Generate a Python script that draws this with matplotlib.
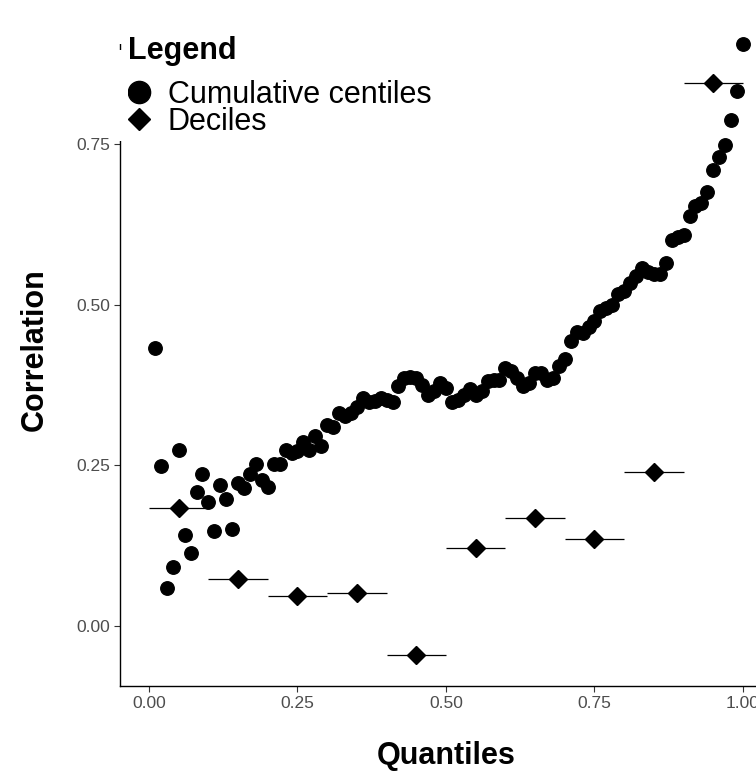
import matplotlib
matplotlib.use("Agg")
import matplotlib.pyplot as plt
from matplotlib.lines import Line2D
from matplotlib.patches import Rectangle

plt.rcParams['font.family'] = ['Liberation Sans', 'DejaVu Sans']

# === DONNEES ===
# centiles cumulés : x = 0.01 ... 1.00
centile_x = [i / 100 for i in range(1, 101)]
centile_y = [
    0.433, 0.249, 0.059, 0.092, 0.274, 0.142, 0.114, 0.208, 0.236, 0.193,
    0.148, 0.219, 0.197, 0.151, 0.222, 0.214, 0.236, 0.252, 0.227, 0.217,
    0.252, 0.252, 0.274, 0.269, 0.272, 0.286, 0.274, 0.295, 0.280, 0.313,
    0.309, 0.331, 0.326, 0.331, 0.340, 0.355, 0.348, 0.350, 0.355, 0.352,
    0.349, 0.373, 0.386, 0.388, 0.386, 0.375, 0.360, 0.365, 0.378, 0.370,
    0.349, 0.352, 0.360, 0.368, 0.360, 0.365, 0.381, 0.383, 0.383, 0.401,
    0.396, 0.386, 0.373, 0.378, 0.394, 0.394, 0.383, 0.386, 0.405, 0.416,
    0.443, 0.458, 0.456, 0.465, 0.475, 0.490, 0.495, 0.500, 0.516, 0.521,
    0.534, 0.544, 0.557, 0.550, 0.547, 0.547, 0.565, 0.601, 0.605, 0.609,
    0.638, 0.653, 0.658, 0.675, 0.710, 0.729, 0.748, 0.788, 0.833, 0.905,
]

# déciles
decile_x = [0.05, 0.15, 0.25, 0.35, 0.45, 0.55, 0.65, 0.75, 0.85, 0.95]
decile_y = [0.183, 0.073, 0.046, 0.051, -0.045, 0.121, 0.168, 0.135, 0.239, 0.845]
decile_halfwidth = [0.05] * 10

x_ticks = [0.00, 0.25, 0.50, 0.75, 1.00]
x_ticklabels = ["0.00", "0.25", "0.50", "0.75", "1.00"]
y_ticks = [0.00, 0.25, 0.50, 0.75]
y_ticklabels = ["0.00", "0.25", "0.50", "0.75"]

# === FIGURE ===
W, H = 756, 772
fig = plt.figure(figsize=(W / 100, H / 100), dpi=100)
ax = fig.add_axes([120 / W, 1 - 686 / H, 653 / W, 672 / H])

ax.errorbar(decile_x, decile_y, xerr=decile_halfwidth, fmt="none",
            ecolor="black", elinewidth=0.9, capsize=0, zorder=2)
ax.plot(decile_x, decile_y, linestyle="none", marker="D", markersize=9.5,
        color="black", zorder=3)
ax.plot(centile_x, centile_y, linestyle="none", marker="o", markersize=9.7,
        color="black", zorder=3)

ax.set_xlim(-0.0488, 1.0505)
ax.set_ylim(-0.0934, 0.9522)

ax.set_xticks(x_ticks)
ax.set_xticklabels(x_ticklabels)
ax.set_yticks(y_ticks)
ax.set_yticklabels(y_ticklabels)
ax.tick_params(axis="both", length=4, width=0.8, color="#333333",
               labelsize=12.5, labelcolor="#4d4d4d", pad=3)

for side in ["top", "right"]:
    ax.spines[side].set_visible(False)
for side in ["left", "bottom"]:
    ax.spines[side].set_linewidth(1.0)
    ax.spines[side].set_color("black")

ax.set_xlabel("Quantiles", fontsize=22, fontweight="bold", va="top")
ax.xaxis.set_label_coords(0.5, -0.082)
ax.set_ylabel("Correlation", fontsize=22, fontweight="bold")
ax.yaxis.set_label_coords(-0.108, 0.5)

# === LEGENDE ===
# fonds blancs du titre et des clés (cachent l'axe gauche)
for y_top, y_bot in [(10, 44), (50, 141)]:
    fig.patches.append(Rectangle((112 / W, 1 - y_bot / H), 16 / W,
                                 (y_bot - y_top) / H,
                                 transform=fig.transFigure, facecolor="white",
                                 edgecolor="none", zorder=5))

handles = [
    Line2D([], [], linestyle="none", marker="o", markersize=16, color="black"),
    Line2D([], [], linestyle="none", marker="D", markersize=11, color="black"),
]
leg = ax.legend(handles, ["Cumulative centiles", "Deciles"],
                loc="upper left", bbox_to_anchor=(115 / W, 1 - 71 / H),
                bbox_transform=fig.transFigure, borderaxespad=0,
                fontsize=22, frameon=False, borderpad=0.3,
                labelspacing=-0.12, handlelength=1.0, handletextpad=0.42)
fig.text(128 / W, 1 - 59 / H, "Legend", fontsize=22, fontweight="bold",
         va="baseline", ha="left")

plt.savefig("out.png", dpi=100)
